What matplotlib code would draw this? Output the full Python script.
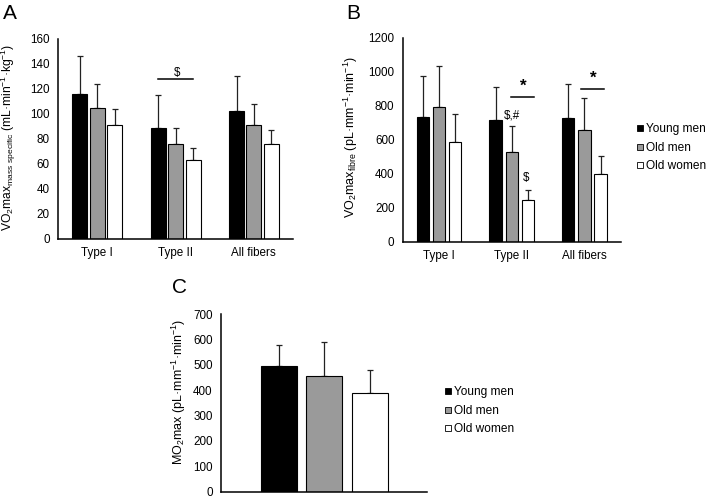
import numpy as np
import matplotlib
matplotlib.use("Agg")
import matplotlib.pyplot as plt
from matplotlib.lines import Line2D

plt.rcParams.update({
    "font.family": ["Liberation Sans", "DejaVu Sans"],
    "mathtext.fontset": "custom",
    "mathtext.rm": "Liberation Sans",
    "mathtext.it": "Liberation Sans:italic",
    "mathtext.bf": "Liberation Sans:bold",
})

GROUPS = ["Young men", "Old men", "Old women"]
COLORS = ["black", "#9a9a9a", "white"]
CATEGORIES = ["Type I", "Type II", "All fibers"]

# panel A: VO2max mass specific (mean, upper SD end)
A_MEAN = {"Young men": [116, 89, 102], "Old men": [105, 76, 91], "Old women": [91, 63, 76]}
A_TOP = {"Young men": [146, 115, 130], "Old men": [124, 89, 108], "Old women": [104, 73, 87]}

# panel B: VO2max fibre
B_MEAN = {"Young men": [731, 718, 725], "Old men": [790, 525, 655], "Old women": [588, 243, 396]}
B_TOP = {"Young men": [975, 908, 925], "Old men": [1033, 682, 847], "Old women": [749, 302, 504]}

# panel C: MO2max
C_MEAN = {"Young men": [496], "Old men": [456], "Old women": [388]}
C_TOP = {"Young men": [579], "Old men": [589], "Old women": [482]}

FS = 8.4      # tick labels
LFS = 9.0     # axis labels


def draw_bars(ax, means, tops, offsets, width):
    n = len(means[GROUPS[0]])
    x = np.arange(n)
    for g, off, col in zip(GROUPS, offsets, COLORS):
        m = np.array(means[g], dtype=float)
        err = np.array(tops[g], dtype=float) - m
        ax.bar(x + off, m, width, color=col, edgecolor="black", linewidth=0.8, zorder=2)
        ax.errorbar(x + off, m, yerr=[np.zeros(n), err], fmt="none", ecolor="#222222",
                    elinewidth=0.9, capsize=2.5, capthick=0.9, zorder=1)
    return x


def style_axis(ax, ymax, step, n):
    ax.set_xlim(-0.5, n - 0.5)
    ax.set_ylim(0, ymax)
    ax.set_yticks(np.arange(0, ymax + 1, step))
    for s in ["top", "right"]:
        ax.spines[s].set_visible(False)
    for s in ["left", "bottom"]:
        ax.spines[s].set_linewidth(1.1)
    ax.tick_params(length=0, labelsize=FS, pad=6)


fig = plt.figure(figsize=(7.09, 4.98), dpi=100)

# ---- A
axA = fig.add_axes([0.0818, 0.5201, 0.3315, 0.4016])
draw_bars(axA, A_MEAN, A_TOP, [-0.22, 0.0, 0.225], 0.19)
style_axis(axA, 160, 20, 3)
axA.set_xticks(range(3))
axA.set_xticklabels(CATEGORIES)
axA.set_ylabel(r"VO$_2$max$_{\mathrm{mass\ specific}}$ (mL·min$^{-1}$·kg$^{-1}$)", fontsize=LFS - 0.3)
axA.yaxis.set_label_coords(-0.17, 0.51)
axA.plot([0.78, 1.225], [128, 128], color="black", lw=1.1)
axA.text(1.02, 133, "$", ha="center", va="center", fontsize=FS)

# ---- B
axB = fig.add_axes([0.568, 0.5147, 0.3075, 0.4096])
draw_bars(axB, B_MEAN, B_TOP, [-0.223, 0.0, 0.222], 0.17)
style_axis(axB, 1200, 200, 3)
axB.set_xticks(range(3))
axB.set_xticklabels(CATEGORIES)
axB.set_ylabel(r"VO$_2$max$_{\mathrm{fibre}}$ (pL·mm$^{-1}$·min$^{-1}$)", fontsize=LFS)
axB.yaxis.set_label_coords(-0.197, 0.51)
for xs, y in [((0.99, 1.30), 853), ((1.95, 2.27), 900)]:
    axB.plot(xs, [y, y], color="black", lw=1.1)
    axB.text(sum(xs) / 2, y + 20, "*", ha="center", va="bottom", fontsize=FS + 4, fontweight="bold")
axB.text(1.0, 745, "$,#", ha="center", va="center", fontsize=FS)
axB.text(1.2, 373, "$", ha="center", va="center", fontsize=FS)

# ---- C
axC = fig.add_axes([0.3117, 0.0127, 0.2901, 0.3562])
draw_bars(axC, C_MEAN, C_TOP, [-0.22, 0.003, 0.223], 0.175)
style_axis(axC, 700, 100, 1)
axC.set_xticks([])
axC.set_ylabel(r"MO$_2$max (pL·mm$^{-1}$·min$^{-1}$)", fontsize=LFS)
axC.yaxis.set_label_coords(-0.16, 0.565)

# legends
handles = [Line2D([], [], marker="s", linestyle="none", markersize=4,
                  markerfacecolor=c, markeredgecolor="black", markeredgewidth=0.6)
           for c in COLORS]
for anchor in [(0.898, 0.703), (0.627, 0.175)]:
    fig.legend(handles, GROUPS, loc="center left", bbox_to_anchor=anchor,
               bbox_transform=fig.transFigure, frameon=False, fontsize=8.6,
               handlelength=0.5, handletextpad=0.3, borderpad=0, borderaxespad=0,
               labelspacing=0.55)

# panel letters
fig.text(0.004, 0.972, "A", fontsize=15, va="center")
fig.text(0.489, 0.972, "B", fontsize=15, va="center")
fig.text(0.242, 0.422, "C", fontsize=15, va="center")

fig.savefig("out.png", dpi=100, facecolor="white")
